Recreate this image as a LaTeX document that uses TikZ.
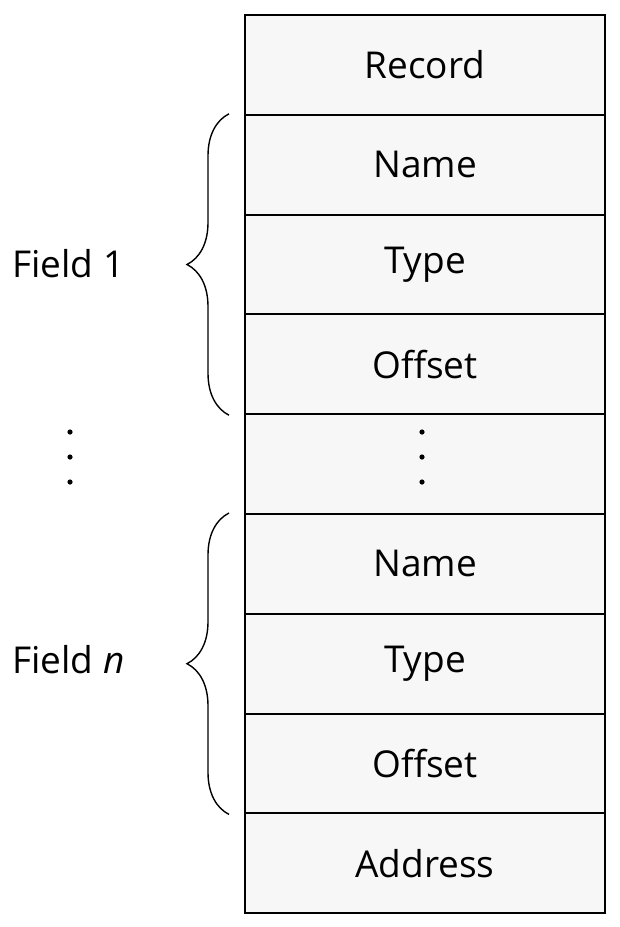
\documentclass[tikz,border=0pt]{standalone}
\usepackage{fontspec}
\setmainfont{Open Sans}
\usetikzlibrary{decorations.pathreplacing}

\begin{document}
\begin{tikzpicture}[x=0.5pt, y=-0.5pt]
    \tikzset{row box/.style={draw=black, line width=1pt, fill=black!3,
            minimum width=180pt, minimum height=49.9pt, inner sep=0pt,
            font=\fontsize{18.5}{22}\selectfont},
        field brace/.style={decorate, line width=0.7pt,
            decoration={brace, amplitude=21pt}},
        field label/.style={anchor=west, inner sep=0pt,
            font=\fontsize{18.5}{22}\selectfont}}
    \useasboundingbox (0, 0) rectangle (620, 927);
    % \draw (0, 0) grid (620, 927);
    \node [row box] (record) at (425, 64.9) {Record};
    \node [row box] (name1) at (425, 164.7) {Name};
    \node [row box] (type1) at (425, 264.5) {Type};
    \node [row box] (off1) at (425, 364.3) {Offset};
    \node [row box] (gap) at (425, 464.1) {};
    \node [row box] (namen) at (425, 563.9) {Name};
    \node [row box] (typen) at (425, 663.7) {Type};
    \node [row box] (offn) at (425, 763.5) {Offset};
    \node [row box] (addr) at (425, 863.3) {Address};
    \draw [field brace] ([xshift=-7.5pt]off1.south west) -- ([xshift=-7.5pt]name1.north west);
    \draw [field brace] ([xshift=-7.5pt]offn.south west) -- ([xshift=-7.5pt]namen.north west);
    \node [field label] (field1) at (12, 264) {Field 1};
    \node [field label] (fieldn) at (12, 660) {Field \textit{n}};
    \foreach \y in {432, 457, 482} {
        \fill (70, \y) circle (1.3pt);
        \fill (422, \y) circle (1.3pt);
    }
\end{tikzpicture}
\end{document}
